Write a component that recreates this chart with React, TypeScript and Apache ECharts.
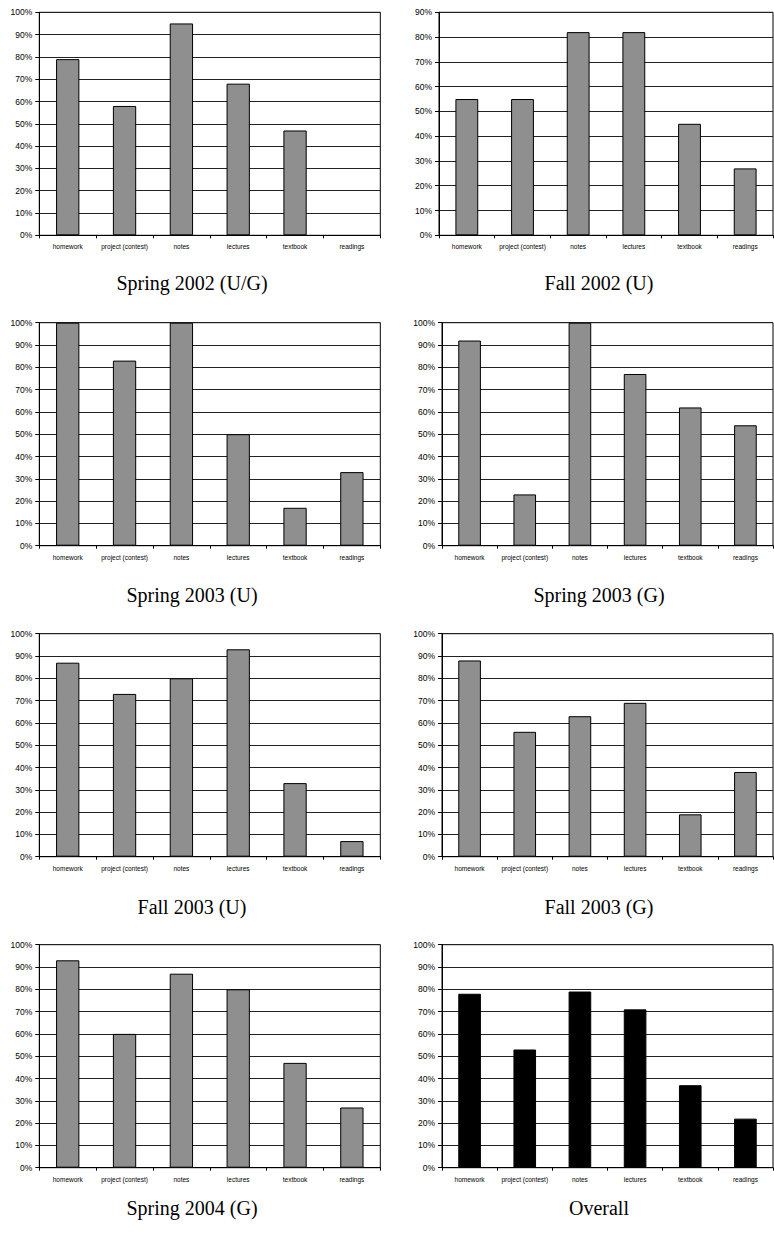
import React, { useEffect, useRef } from "react";
import * as echarts from "echarts";

const categories = ["homework", "project (contest)", "notes", "lectures", "textbook", "readings"];

const titles = [
  "Spring 2002 (U/G)",
  "Fall 2002 (U)",
  "Spring 2003 (U)",
  "Spring 2003 (G)",
  "Fall 2003 (U)",
  "Fall 2003 (G)",
  "Spring 2004 (G)",
  "Overall",
];

const spring2002UG = [79, 58, 95, 68, 47, null];
const fall2002U = [55, 55, 82, 82, 45, 27];
const spring2003U = [100, 83, 100, 50, 17, 33];
const spring2003G = [92, 23, 100, 77, 62, 54];
const fall2003U = [87, 73, 80, 93, 33, 7];
const fall2003G = [88, 56, 63, 69, 19, 38];
const spring2004G = [93, 60, 87, 80, 47, 27];
const overall = [78, 53, 79, 71, 37, 22];

const yMaxes = [100, 90, 100, 100, 100, 100, 100, 100];

const seriesData = [spring2002UG, fall2002U, spring2003U, spring2003G, fall2003U, fall2003G, spring2004G, overall];

export default function App() {
  const ref = useRef<HTMLDivElement>(null);
  useEffect(() => {
    document.body.style.margin = "0";
    if (!ref.current) return;
    const chart = echarts.init(ref.current, null, { renderer: "svg" });

    const rowTops = [12.3, 322.7, 633.7, 944.7];
    const plotH = 223;
    const titleYs = [283, 595, 907, 1208];
    const colLeft = [39.3, 442];
    const colWidth = [341, 331];
    const titleX = [192, 599];

    const grids: any[] = [];
    const xAxes: any[] = [];
    const yAxes: any[] = [];
    const series: any[] = [];
    const graphics: any[] = [];

    seriesData.forEach((data, i) => {
      const row = Math.floor(i / 2);
      const col = i % 2;
      let left = colLeft[col];
      let width = colWidth[col];
      if (i === 1) {
        left = 439;
        width = 334;
      }
      grids.push({
        left,
        top: rowTops[row],
        width,
        height: plotH,
        show: true,
        borderColor: "#000",
        borderWidth: 1,
        backgroundColor: "transparent",
        containLabel: false,
      });
      xAxes.push({
        type: "category",
        gridIndex: i,
        data: categories,
        boundaryGap: true,
        axisLine: { show: true, lineStyle: { color: "#000", width: 1 } },
        axisTick: { show: true, alignWithLabel: false, length: 3, lineStyle: { color: "#000" } },
        axisLabel: {
          interval: 0,
          fontSize: 6.5,
          fontFamily: "Liberation Sans, Arial, sans-serif",
          color: "#000",
          margin: 8,
        },
        splitLine: { show: false },
      });
      yAxes.push({
        type: "value",
        gridIndex: i,
        min: 0,
        max: yMaxes[i],
        interval: 10,
        axisLine: { show: true, lineStyle: { color: "#000", width: 1 } },
        axisTick: { show: true, length: 4, lineStyle: { color: "#000" } },
        axisLabel: {
          formatter: "{value}%",
          fontSize: 8.5,
          fontFamily: "Liberation Sans, Arial, sans-serif",
          color: "#000",
          margin: 7,
        },
        splitLine: { show: true, lineStyle: { color: "#222", width: 1 } },
      });
      const isOverall = i === 7;
      series.push({
        type: "bar",
        xAxisIndex: i,
        yAxisIndex: i,
        data,
        barWidth: "41%",
        itemStyle: {
          color: isOverall ? "#000" : "#8f8f8f",
          borderColor: "#000",
          borderWidth: 1,
        },
      });
      graphics.push({
        type: "text",
        x: titleX[col],
        y: titleYs[row],
        style: {
          text: titles[i],
          fontSize: 20,
          fontFamily: "Liberation Serif, Times New Roman, serif",
          fill: "#000",
          textAlign: "center",
          textVerticalAlign: "middle",
        },
      });
    });

    chart.setOption({
      animation: false,
      backgroundColor: "#fff",
      grid: grids,
      xAxis: xAxes,
      yAxis: yAxes,
      series,
      graphic: graphics,
    });
    return () => chart.dispose();
  }, []);
  return <div ref={ref} style={{ width: 774, height: 1233 }} />;
}
